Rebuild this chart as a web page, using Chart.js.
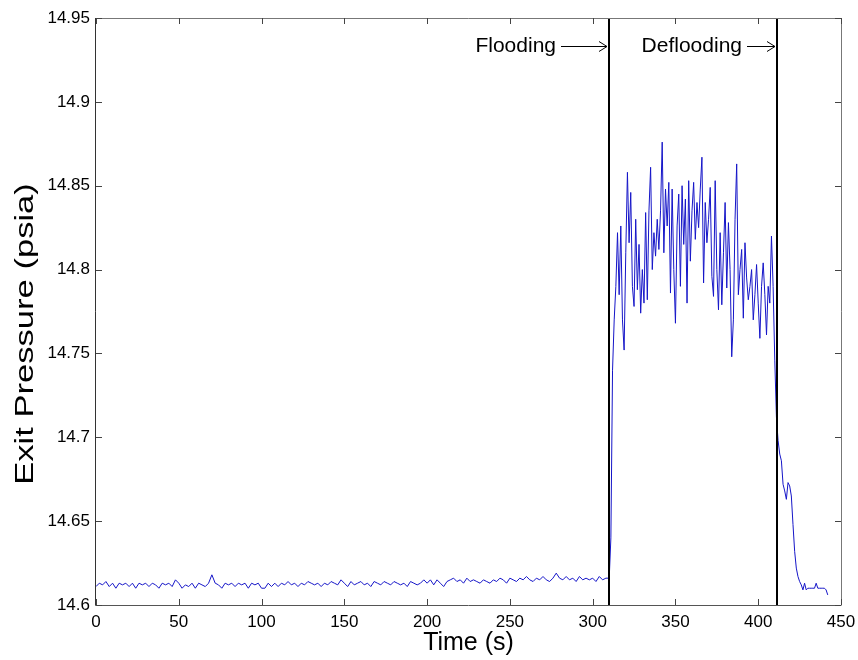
<!DOCTYPE html>
<html>
<head>
<meta charset="utf-8">
<script src="https://cdn.jsdelivr.net/npm/chart.js@4/dist/chart.umd.min.js"></script>
<style>
  html, body { margin: 0; padding: 0; background: #fff; }
  #wrap { width: 858px; height: 660px; }
</style>
</head>
<body>
<div id="wrap"><canvas id="c" width="858" height="660"></canvas></div>
<script>
// ---- data ----
const baselineTimes = [
  0,2,4,6,8,10,12,14,16,18, 20,22,24,26,28,30,32,34,36,38,
  40,42,44,46,48,50,52,54,56,58, 60,62,64,66,68,70,72,74,76,78,
  80,82,84,86,88,90,92,94,96,98, 100,102,104,106,108,110,112,114,116,118,
  120,122,124,126,128,130,132,134,136,138, 140,142,144,146,148,150,152,154,156,158,
  160,162,164,166,168,170,172,174,176,178, 180,182,184,186,188,190,192,194,196,198,
  200,202,204,206,208,210,212,214,216,218, 220,222,224,226,228,230,232,234,236,238,
  240,242,244,246,248,250,252,254,256,258, 260,262,264,266,268,270,272,274,276,278,
  280,282,284,286,288,290,292,294,296,298, 300,302,304,306,308
];
const baselinePressure = [
  14.611,14.613,14.612,14.614,14.611,14.613,14.610,14.613,14.612,14.613,
  14.611,14.613,14.610,14.613,14.612,14.613,14.611,14.613,14.612,14.610,
  14.613,14.612,14.613,14.611,14.615,14.613,14.610,14.612,14.611,14.613,
  14.610,14.613,14.612,14.611,14.613,14.618,14.613,14.612,14.610,14.613,
  14.612,14.613,14.611,14.613,14.612,14.613,14.610,14.613,14.612,14.613,
  14.610,14.610,14.613,14.611,14.613,14.611,14.613,14.612,14.614,14.612,
  14.613,14.611,14.613,14.612,14.614,14.613,14.612,14.613,14.611,14.613,
  14.612,14.614,14.613,14.612,14.615,14.613,14.611,14.614,14.612,14.613,
  14.614,14.612,14.613,14.611,14.614,14.613,14.612,14.614,14.613,14.612,
  14.614,14.613,14.612,14.613,14.611,14.614,14.613,14.612,14.613,14.615,
  14.613,14.615,14.612,14.615,14.613,14.611,14.614,14.615,14.616,14.614,
  14.615,14.613,14.616,14.614,14.615,14.614,14.613,14.615,14.614,14.613,
  14.615,14.614,14.616,14.615,14.613,14.616,14.615,14.614,14.616,14.615,
  14.617,14.615,14.614,14.616,14.615,14.617,14.615,14.614,14.616,14.619,
  14.616,14.615,14.617,14.615,14.616,14.614,14.617,14.615,14.616,14.615,
  14.616,14.614,14.617,14.615,14.616
];
const floodTimes = [
  310,311,312,313,314,315,316,317,318,319, 320,321,322,323,324,325,326,327,328,329,
  330,331,332,333,334,335,336,337,338,339, 340,341,342,343,344,345,346,347,348,349,
  350,351,352,353,354,355,356,357,358,359, 360,361,362,363,364,365,366,367,368,369,
  370,371,372,373,374,375,376,377,378,379, 380,381,382,383,384,385,386,387,388,389,
  390,391,392,393,394,395,396,397,398,399, 400,401,402,403,404,405,406,407,408,409,
  410,411,412,413,414,415,416,417,418,419, 420,421,422,423,424,425,426,427,428,429,
  430,431,432,433,434,435,436,437,438,439, 440,441,442
];
const floodPressure = [
  14.616,14.640,14.740,14.770,14.790,14.822,14.785,14.826,14.770,14.752,
  14.810,14.858,14.816,14.846,14.790,14.778,14.830,14.788,14.815,14.774,
  14.800,14.780,14.834,14.782,14.835,14.861,14.800,14.822,14.808,14.830,
  14.812,14.835,14.876,14.810,14.848,14.826,14.852,14.786,14.848,14.800,
  14.768,14.826,14.845,14.790,14.850,14.815,14.842,14.780,14.853,14.805,
  14.835,14.852,14.818,14.840,14.825,14.848,14.867,14.792,14.840,14.816,
  14.830,14.849,14.796,14.784,14.853,14.800,14.776,14.822,14.779,14.810,
  14.840,14.789,14.828,14.800,14.748,14.770,14.830,14.863,14.785,14.800,
  14.812,14.771,14.816,14.795,14.782,14.790,14.800,14.770,14.785,14.803,
  14.780,14.759,14.790,14.804,14.785,14.761,14.790,14.780,14.820,14.790,
  14.746,14.712,14.698,14.690,14.686,14.672,14.668,14.663,14.673,14.671,
  14.665,14.648,14.632,14.622,14.617,14.614,14.612,14.609,14.613,14.609,
  14.610,14.610,14.610,14.610,14.610,14.613,14.610,14.610,14.610,14.610,
  14.610,14.609,14.606
];
const xTickValues = [0,50,100,150,200,250,300,350,400,450];
const xTickLabels = ['0','50','100','150','200','250','300','350','400','450'];
const yTickValues = [14.6,14.65,14.7,14.75,14.8,14.85,14.9,14.95];
const yTickLabels = ['14.6','14.65','14.7','14.75','14.8','14.85','14.9','14.95'];
const eventTimes = [310, 411.5];
const eventLabels = ['Flooding', 'Deflooding'];
const xTitle = 'Time (s)';
const yTitle = 'Exit Pressure (psia)';

// ---- build points ----
const allTimes = baselineTimes.concat(floodTimes);
const allPressure = baselinePressure.concat(floodPressure);
const points = allTimes.map((t, i) => ({ x: t, y: allPressure[i] }));

const FONT = 'Arial, "Liberation Sans", Helvetica, sans-serif';

const decorPlugin = {
  id: 'decor',
  afterDatasetsDraw(chart) {
    const { ctx, chartArea: a, scales: { x, y } } = chart;
    ctx.save();
    // event lines
    ctx.strokeStyle = '#000';
    ctx.lineWidth = 2;
    eventTimes.forEach(t => {
      const px = Math.round(x.getPixelForValue(t));
      ctx.beginPath();
      ctx.moveTo(px, a.top);
      ctx.lineTo(px, a.bottom);
      ctx.stroke();
    });
    // labels + arrows
    const arrowLens = [46, 28];
    const textY = 46;
    ctx.font = '21px ' + FONT;
    ctx.fillStyle = '#000';
    ctx.textBaseline = 'middle';
    ctx.textAlign = 'right';
    ctx.lineWidth = 1;
    ctx.strokeStyle = '#000';
    eventTimes.forEach((t, i) => {
      const px = Math.round(x.getPixelForValue(t)) - 2;
      const x0 = px - arrowLens[i];
      ctx.fillText(eventLabels[i], x0 - 5, textY);
      ctx.beginPath();
      ctx.moveTo(x0, textY + 0.5);
      ctx.lineTo(px, textY + 0.5);
      ctx.moveTo(px - 8, textY - 4.5);
      ctx.lineTo(px, textY + 0.5);
      ctx.lineTo(px - 8, textY + 5.5);
      ctx.stroke();
    });
    // box
    ctx.lineWidth = 1;
    ctx.strokeStyle = '#777';
    ctx.beginPath();
    ctx.moveTo(a.left, a.top + 0.5); ctx.lineTo(a.right + 0.5, a.top + 0.5);
    ctx.lineTo(a.right + 0.5, a.bottom);
    ctx.stroke();
    ctx.strokeStyle = '#333';
    ctx.beginPath();
    ctx.moveTo(a.left - 0.5, a.top); ctx.lineTo(a.left - 0.5, a.bottom + 0.5);
    ctx.stroke();
    ctx.strokeStyle = '#555';
    ctx.beginPath();
    ctx.moveTo(a.left - 0.5, a.bottom + 0.5); ctx.lineTo(a.right + 0.5, a.bottom + 0.5);
    ctx.stroke();
    // inward ticks
    const tl = 6;
    ctx.strokeStyle = '#444';
    ctx.beginPath();
    xTickValues.forEach(v => {
      const px = Math.round(x.getPixelForValue(v)) + 0.5;
      ctx.moveTo(px, a.bottom); ctx.lineTo(px, a.bottom - tl);
      ctx.moveTo(px, a.top); ctx.lineTo(px, a.top + tl);
    });
    yTickValues.forEach(v => {
      const py = Math.round(y.getPixelForValue(v)) + 0.5;
      ctx.moveTo(a.left, py); ctx.lineTo(a.left + tl, py);
      ctx.moveTo(a.right, py); ctx.lineTo(a.right - tl, py);
    });
    ctx.stroke();
    // y-axis title (horizontally stretched, as in the reference)
    ctx.translate(26, 334);
    ctx.rotate(-Math.PI / 2);
    ctx.scale(1.33, 1);
    ctx.font = '26px ' + FONT;
    ctx.textAlign = 'center';
    ctx.textBaseline = 'middle';
    ctx.fillStyle = '#000';
    ctx.fillText(yTitle, 0, 0);
    ctx.restore();
  }
};

new Chart(document.getElementById('c'), {
  type: 'line',
  data: {
    datasets: [{
      data: points,
      borderColor: '#1515c8',
      borderWidth: 1,
      pointRadius: 0,
      tension: 0,
      fill: false
    }]
  },
  options: {
    responsive: false,
    animation: false,
    events: [],
    layout: { padding: { top: 18, right: 17, left: 0, bottom: 0 } },
    plugins: { legend: { display: false }, tooltip: { enabled: false } },
    scales: {
      x: {
        type: 'linear',
        min: 0, max: 450,
        afterBuildTicks: s => { s.ticks = xTickValues.map(v => ({ value: v })); },
        afterFit: s => { s.height = 55; s.paddingLeft = 0; s.paddingRight = 0; },
        grid: { display: false, drawTicks: false },
        border: { display: false },
        ticks: {
          padding: 7,
          color: '#000',
          font: { size: 17, family: FONT },
          maxRotation: 0,
          autoSkip: false,
          callback: (v, i) => xTickLabels[i]
        },
        title: {
          display: true, text: xTitle, color: '#000',
          font: { size: 25, family: FONT },
          padding: { top: 0, bottom: 2 }
        }
      },
      y: {
        type: 'linear',
        min: 14.6, max: 14.95,
        afterBuildTicks: s => { s.ticks = yTickValues.map(v => ({ value: v })); },
        afterFit: s => { s.width = 96; s.paddingTop = 0; s.paddingBottom = 0; },
        grid: { display: false, drawTicks: false },
        border: { display: false },
        ticks: {
          padding: 6,
          color: '#000',
          font: { size: 17, family: FONT },
          autoSkip: false,
          callback: (v, i) => yTickLabels[i]
        },
        title: { display: false, text: yTitle }
      }
    }
  },
  plugins: [decorPlugin]
});
</script>
</body>
</html>
